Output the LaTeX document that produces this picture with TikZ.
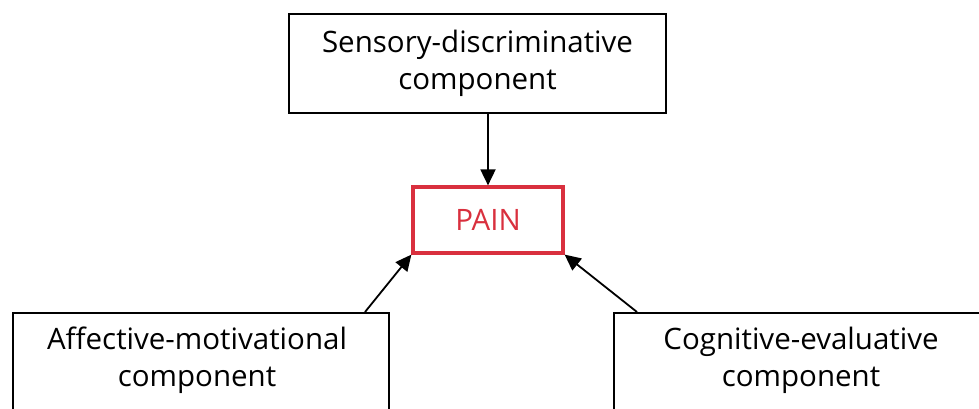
\documentclass[tikz,border=0pt]{standalone}
\usepackage{fontspec}
\setmainfont{Open Sans}
\usetikzlibrary{arrows.meta}
\definecolor{painred}{HTML}{D9303E}
\tikzset{
  comp/.style={draw=black, line width=2pt, fill=white, inner sep=0pt, anchor=north west},
  lbl/.style={align=center, font=\fontsize{29.5}{37}\selectfont, text=black},
  arr/.style={line width=1.8pt, -{Triangle[length=16pt,width=15pt]}}
}
\begin{document}
\begin{tikzpicture}[x=1pt,y=-1pt]
\useasboundingbox (0,0) rectangle (979,408);
\clip (0,0) rectangle (979,408);
% boxes
\node[comp, minimum width=377pt, minimum height=99pt] (sens) at (288,13) {};
\node[lbl] at (sens.center) {Sensory-discriminative\\component};
\node[draw=painred, line width=3.2pt, minimum width=150pt, minimum height=66pt, inner sep=0pt,
      text=painred, font=\fontsize{29.5}{37}\selectfont] (pain) at (488,220) {PAIN};
\node[comp, minimum width=376pt, minimum height=130pt] (aff) at (12,312) {};
\node[lbl] at (197,360) {Affective-motivational\\component};
\node[comp, minimum width=390pt, minimum height=130pt] (cog) at (613,312) {};
\node[lbl] at (801,360) {Cognitive-evaluative\\component};
% connectors
\draw[arr] (pain.north |- sens.south) -- (pain.north);
\coordinate (affA) at (365,312);
\coordinate (cogA) at (637,312);
\draw[arr] (affA) -- (pain.south west);
\draw[arr] (cogA) -- (pain.south east);
\end{tikzpicture}
\end{document}
